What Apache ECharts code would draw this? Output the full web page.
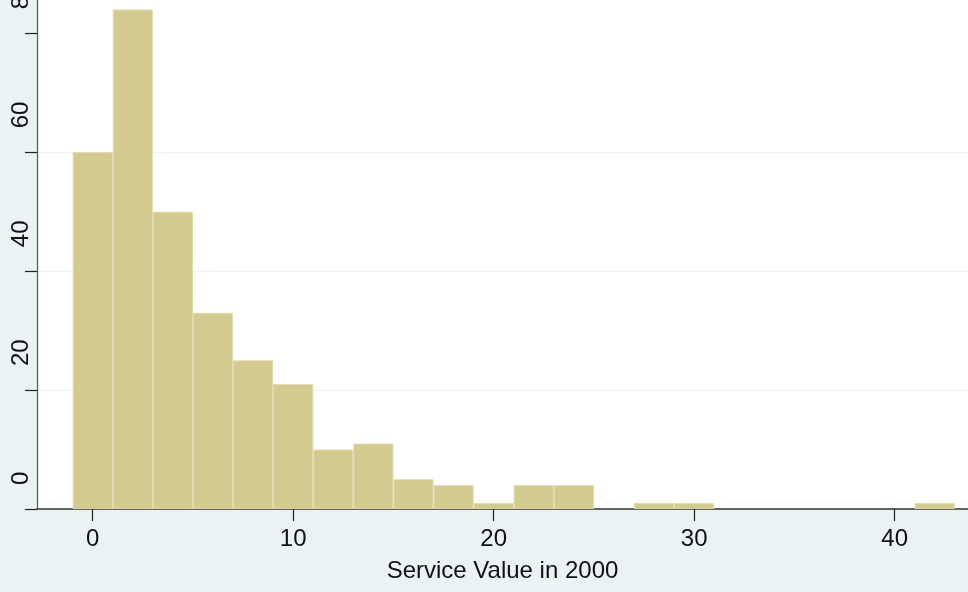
<!DOCTYPE html>
<html>
<head>
<meta charset="utf-8">
<script src="https://cdn.jsdelivr.net/npm/echarts@6/dist/echarts.min.js"></script>
<style>
  html, body { margin: 0; padding: 0; background: #eaf2f3; }
  #chart { width: 968px; height: 592px; }
</style>
</head>
<body>
<div id="chart"></div>
<script>
// Histogram bins: width 2, edges from -1 to 43
const binEdges = [-1, 1, 3, 5, 7, 9, 11, 13, 15, 17, 19, 21, 23, 25, 27, 29, 31, 33, 35, 37, 39, 41, 43];
const counts = [60, 84, 50, 33, 25, 21, 10, 11, 5, 4, 1, 4, 4, 0, 1, 1, 0, 0, 0, 0, 0, 1];
const xTicks = [0, 10, 20, 30, 40];
const yTicks = [0, 20, 40, 60, 80];
const xTitle = 'Service Value in 2000';

const FONT = '"Liberation Sans", Arial, sans-serif';

const binData = counts.map((c, i) => [binEdges[i], binEdges[i + 1], c]);

const chart = echarts.init(document.getElementById('chart'), null, { renderer: 'canvas' });

chart.setOption({
  backgroundColor: '#eaf2f3',
  animation: false,
  grid: {
    left: 37, right: 0, top: 0, bottom: 83,
    outerBoundsMode: 'none',
    containLabel: false,
    show: true, backgroundColor: '#ffffff', borderWidth: 0
  },
  xAxis: {
    type: 'value',
    min: -2.78,
    max: 43.66,
    name: xTitle,
    nameLocation: 'middle',
    nameGap: 50,
    nameTextStyle: { fontFamily: FONT, fontSize: 24, color: '#111', verticalAlign: 'top' },
    axisLine: { show: true, onZero: false, lineStyle: { color: '#333', width: 1.5 } },
    axisTick: { show: true, length: 12, lineStyle: { color: '#222', width: 1.2 }, customValues: xTicks },
    axisLabel: { fontFamily: FONT, fontSize: 24, color: '#111', margin: 18, customValues: xTicks },
    splitLine: { show: false }
  },
  yAxis: {
    type: 'value',
    min: 0,
    max: 85.6,
    interval: 20,
    axisLine: { show: true, onZero: false, lineStyle: { color: '#555', width: 1.2 } },
    axisTick: { show: true, length: 12, lineStyle: { color: '#222', width: 1.2 }, customValues: yTicks },
    axisLabel: {
      fontFamily: FONT, fontSize: 24, color: '#111',
      rotate: 90, margin: 4,
      align: 'left', verticalAlign: 'bottom',
      padding: [0, 0, 0, 24],
      customValues: yTicks
    },
    splitLine: { show: true, showMaxLine: false, lineStyle: { color: '#eaf2f3', width: 1.2 } }
  },
  series: [{
    type: 'custom',
    data: binData,
    encode: { x: [0, 1], y: 2 },
    clip: true,
    renderItem: function (params, api) {
      const c = api.value(2);
      if (!c) return null;
      const p0 = api.coord([api.value(0), c]);
      const p1 = api.coord([api.value(1), 0]);
      return {
        type: 'rect',
        shape: { x: p0[0] + 0.5, y: p0[1] + 0.5, width: p1[0] - p0[0] - 1, height: p1[1] - p0[1] - 0.5 },
        style: { fill: '#d3ca8f', stroke: '#e0daae', lineWidth: 1 }
      };
    }
  }]
});
</script>
</body>
</html>
